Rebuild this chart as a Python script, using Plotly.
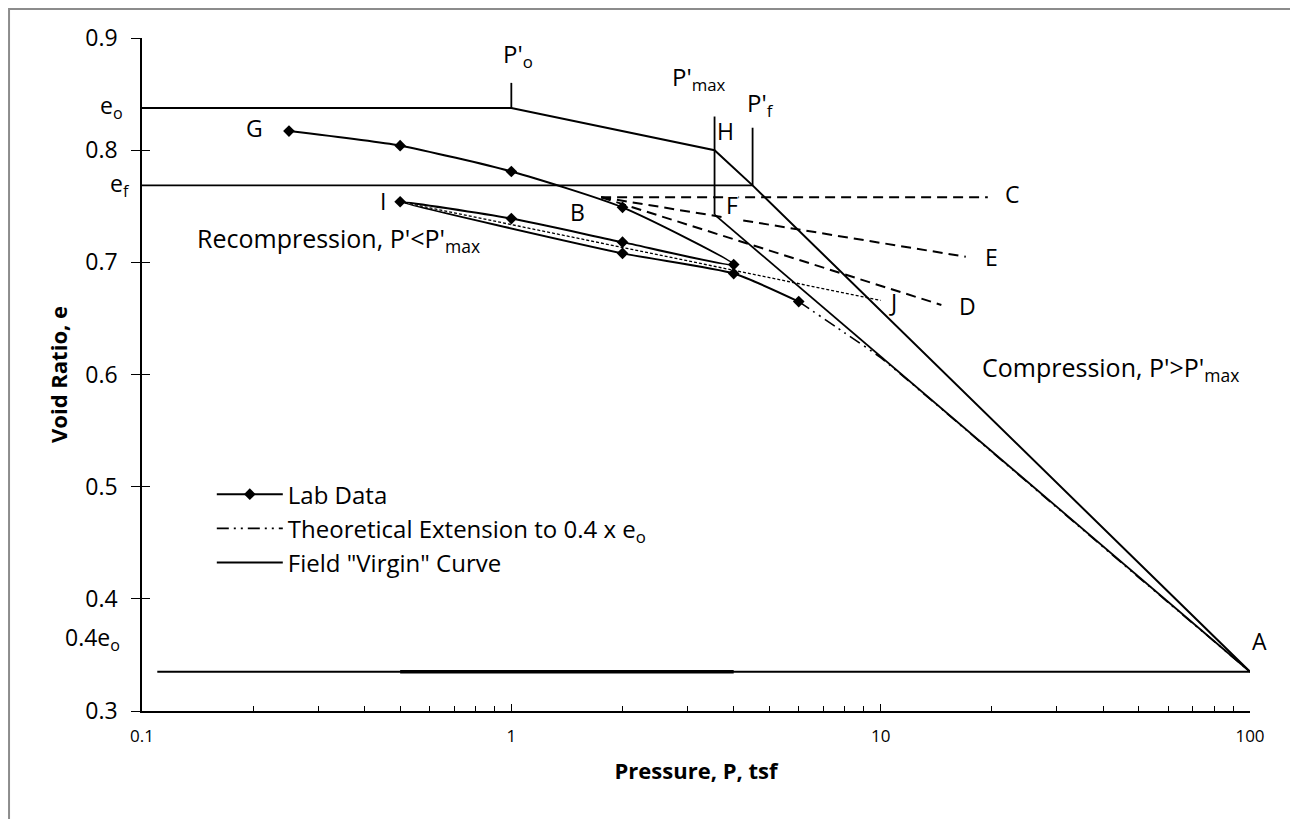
import numpy as np
import plotly.graph_objects as go

# ---------------- data ----------------
# Lab data (loading / unloading / reloading)
lab_P = [0.25, 0.5, 1, 2, 4, 2, 1, 0.5, 2, 4, 6]
lab_e = [0.817, 0.804, 0.781, 0.749, 0.698, 0.718, 0.739, 0.754, 0.708, 0.690, 0.665]

# Theoretical extension to 0.4 x e_o
ext_P = [6, 8, 10, 20, 50, 100]
ext_e = [0.665, 0.637, 0.615, 0.531, 0.419, 0.335]

# Field "virgin" curve
e_o = 0.8375
e_f = 0.7686
e_A = 0.335          # 0.4 x e_o
P_o, P_max, P_f, P_A = 1.0, 3.55, 4.5, 100.0
e_H, e_F = 0.800, 0.7425
fv_P = [0.1, P_o, P_max, P_f, P_A]
fv_e = [e_o, e_o, e_H, e_f, e_A]

# construction lines
ef_P = [0.1, P_f]
ef_e = [e_f, e_f]
FA_P = [P_max, P_A]
FA_e = [e_F, e_A]
tick_Po_P, tick_Po_e = [P_o, P_o], [e_o, 0.860]
tick_Pmax_P, tick_Pmax_e = [P_max, P_max], [0.830, e_F]
tick_Pf_P, tick_Pf_e = [P_f, P_f], [0.820, e_f]
base_P, base_e = [0.11, P_A], [e_A, e_A]
base_thick_P, base_thick_e = [0.5, 4], [e_A, e_A]

# dashed recompression lines from B
B_P, B_e = 1.75, 0.758
BC_P, BC_e = [B_P, 19.5], [B_e, 0.758]
BE_P, BE_e = [B_P, 17.0], [B_e, 0.705]
BD_P, BD_e = [B_P, 14.6], [B_e, 0.662]
# dotted I -> J
IJ_P, IJ_e = [0.5, 10.0], [0.754, 0.666]

FONT = "Open Sans"
BLACK = "#000000"
LBL = 23      # single-letter labels / tick labels
TXT = 25      # phrase labels

fig = go.Figure()

def seg(P, e, width=2, dash=None, yaxis="y"):
    fig.add_trace(go.Scatter(x=P, y=e, mode="lines", showlegend=False, hoverinfo="skip",
                             line=dict(color=BLACK, width=width, dash=dash), yaxis=yaxis))

# construction lines
seg(ef_P, ef_e, 1.8)
seg(FA_P, FA_e, 1.8)
seg(tick_Po_P, tick_Po_e, 1.8)
seg(tick_Pmax_P, tick_Pmax_e, 1.8)
seg(tick_Pf_P, tick_Pf_e, 1.8)
seg(base_P, base_e, 1.8, yaxis="y2")
seg(base_thick_P, base_thick_e, 3.5)
seg(BC_P, BC_e, 2, "10px,6px")
seg(BE_P, BE_e, 2, "10px,6px")
seg(BD_P, BD_e, 2, "10px,6px")
seg(IJ_P, IJ_e, 1.3, "3px,2px")

# legend traces
fig.add_trace(go.Scatter(x=lab_P, y=lab_e, mode="lines+markers", name="Lab Data",
                         line=dict(color=BLACK, width=2, shape="spline", smoothing=0.6),
                         marker=dict(symbol="diamond", size=9, color=BLACK),
                         legendgroup="a"))
fig.add_trace(go.Scatter(x=ext_P, y=ext_e, mode="lines",
                         name="Theoretical Extension to 0.4 x e<sub>o</sub>",
                         line=dict(color=BLACK, width=1.6, shape="spline", smoothing=0.5,
                                   dash="12px,5px,2px,5px,2px,5px"),
                         legendgroup="b"))
fig.add_trace(go.Scatter(x=fv_P, y=fv_e, mode="lines", name="Field \"Virgin\" Curve",
                         line=dict(color=BLACK, width=2), legendgroup="c"))

# ---------------- labels ----------------
def lbl(P, e, text, xanchor="center", yanchor="middle", bg=None, size=LBL):
    fig.add_annotation(x=np.log10(P), y=e, xref="x", yref="y", text=text, showarrow=False,
                       xanchor=xanchor, yanchor=yanchor, font=dict(family=FONT, size=size, color=BLACK),
                       bgcolor=bg, borderpad=0)

lbl(0.202, 0.820, "G")
lbl(0.45, 0.755, "I")
lbl(1.51, 0.745, "B")
lbl(3.8, 0.817, "H")
lbl(3.95, 0.751, "F", bg="white")
lbl(22.8, 0.761, "C")
lbl(19.9, 0.705, "E")
lbl(17.2, 0.661, "D")
lbl(10.8, 0.665, "J")
lbl(0.945, 0.885, "P'<sub>o</sub>", xanchor="left", size=24)
lbl(2.70, 0.864, "P'<sub>max</sub>", xanchor="left", size=24)
lbl(4.33, 0.841, "P'<sub>f</sub>", xanchor="left", size=24)
lbl(0.140, 0.720, "Recompression, P'&lt;P'<sub>max</sub>", xanchor="left", size=TXT)
lbl(18.7, 0.605, "Compression, P'&gt;P'<sub>max</sub>", xanchor="left", size=TXT)

def plbl(xp, e, text, xanchor="right"):
    fig.add_annotation(x=xp, y=e, xref="paper", yref="y", text=text, showarrow=False,
                       xanchor=xanchor, yanchor="middle",
                       font=dict(family=FONT, size=LBL, color=BLACK))

plbl(-0.0153, 0.839, "e<sub>o</sub>")
plbl(-0.009, 0.769, "e<sub>f</sub>")
plbl(-0.018, 0.365, "0.4e<sub>o</sub>")
plbl(1.009, 0.362, "A", xanchor="center")

# chart-area border
fig.add_shape(type="rect", xref="paper", yref="paper", x0=-0.12, x1=1.0388, y0=-0.25, y1=1.0431,
              line=dict(color="#8c8c8c", width=2), layer="below")

minor_vals = [m * 10.0 ** k for k in (-1, 0, 1) for m in range(2, 10)]

# page has an 8px body margin, so the figure is 8px smaller and offsets shift
fig.update_layout(
    width=1290, height=811,
    margin=dict(l=134, r=48, t=30, b=108),
    paper_bgcolor="white", plot_bgcolor="white",
    font=dict(family=FONT, color=BLACK),
    showlegend=True,
    legend=dict(x=0.063, y=0.355, xanchor="left", yanchor="top", bgcolor="rgba(0,0,0,0)",
                font=dict(family=FONT, size=24, color=BLACK), tracegroupgap=0,
                itemwidth=66),
    xaxis=dict(type="log", range=[-1, 2], showgrid=False, zeroline=False,
               showline=True, linecolor=BLACK, linewidth=1.5,
               ticks="inside", ticklen=7, tickwidth=1.3, tickcolor=BLACK,
               tickvals=[0.1, 1, 10, 100], ticktext=["0.1", "1", "10", "100"],
               tickfont=dict(family=FONT, size=17, color=BLACK), ticklabelstandoff=9,
               minor=dict(ticks="inside", ticklen=5, tickwidth=1.2, tickcolor=BLACK,
                          tickvals=minor_vals, showgrid=False),
               title=dict(text="<b>Pressure, P, tsf</b>", standoff=17,
                          font=dict(family=FONT, size=22, color=BLACK))),
    yaxis=dict(range=[0.3, 0.9], dtick=0.1, tick0=0.3, showgrid=False, zeroline=False,
               showline=True, linecolor=BLACK, linewidth=1.5,
               ticks="outside", ticklen=9, tickwidth=1.3, tickcolor=BLACK,
               tickformat=".1f", tickfont=dict(family=FONT, size=LBL, color=BLACK),
               ticklabelstandoff=9,
               title=dict(text="<b>Void Ratio, e</b>", standoff=12,
                          font=dict(family=FONT, size=22, color=BLACK))),
    yaxis2=dict(range=[0.3, 0.9], dtick=0.1, tick0=0.3, overlaying="y", side="left",
                showgrid=False, zeroline=False, showline=False, showticklabels=False,
                ticks="inside", ticklen=8, tickwidth=1.3, tickcolor=BLACK),
)

fig.write_html("out.html")
